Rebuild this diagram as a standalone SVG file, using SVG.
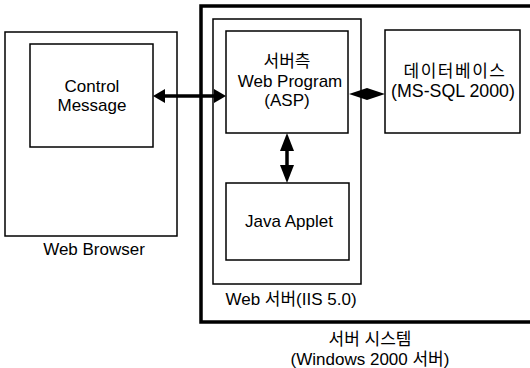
<svg xmlns="http://www.w3.org/2000/svg" width="530" height="368" viewBox="0 0 530 368">
<defs>
<style>
.box{fill:none;stroke:#000;stroke-width:1.5}
.thick{fill:none;stroke:#000;stroke-width:3.5}
text{font-family:"Liberation Sans","Noto Sans CJK KR",sans-serif;font-size:17px;fill:#000;text-anchor:middle}
.ln{stroke:#000;stroke-width:3.5;fill:none}
</style>
</defs>
<rect width="530" height="368" fill="#fff"/>
<g id="server-system">
<rect class="thick" x="201" y="6" width="340" height="316"/>
<text x="370" y="345">서버 시스템</text>
<text x="370" y="365">(Windows 2000 서버)</text>
</g>
<g id="web-browser">
<rect class="box" x="5" y="32" width="172" height="204"/>
<text x="94" y="255">Web Browser</text>
</g>
<g id="control-message">
<rect class="box" x="30" y="44" width="123" height="103"/>
<text x="92" y="92">Control</text>
<text x="92" y="111">Message</text>
</g>
<g id="web-server">
<rect class="box" x="213" y="19" width="148" height="265"/>
<text x="291" y="305">Web 서버(IIS 5.0)</text>
</g>
<g id="web-program">
<rect class="box" x="226" y="31" width="122" height="102"/>
<text x="287" y="67">서버측</text>
<text x="290" y="87">Web Program</text>
<text x="287" y="106">(ASP)</text>
</g>
<g id="java-applet">
<rect class="box" x="226" y="183" width="123" height="77"/>
<text x="289" y="227">Java Applet</text>
</g>
<g id="database">
<rect class="box" x="385" y="30" width="135" height="103"/>
<text x="455" y="77" letter-spacing="1.5">데이터베이스</text>
<text x="453" y="97" style="font-size:17.8px">(MS-SQL 2000)</text>
</g>
<g id="connectors">
<line class="ln" x1="162" y1="96" x2="217" y2="96"/>
<polygon points="153,96 165,89 165,103"/>
<polygon points="226,96 214,89 214,103"/>
<polygon points="349,94 367,88 385,94 367,100"/>
<line class="ln" x1="287" y1="145" x2="287" y2="171"/>
<polygon points="287,133 280,151 294,151"/>
<polygon points="287,183 280,165 294,165"/>
</g>
</svg>
